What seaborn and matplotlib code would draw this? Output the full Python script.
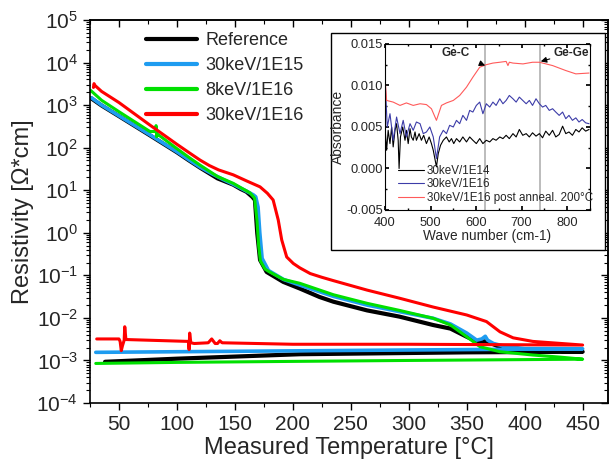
import numpy as np
import pandas as pd
import matplotlib
matplotlib.use("Agg")
import matplotlib.pyplot as plt
import matplotlib.ticker as mticker
from matplotlib.patches import Rectangle
import seaborn as sns

# main chart: resistivity vs temperature (heating run followed by cooling run)
ref_T = [26, 35, 50, 76.7, 100, 110, 119.9, 135, 148.6, 155, 160, 165, 167.3, 169.3, 171.7, 177.4, 191.8,
         206, 223, 235, 264, 292, 321, 336, 350, 358.6, 367, 378, 400, 450,
         350, 206, 100, 38]
ref_rho = [1450, 980, 550, 195, 78, 51, 34, 19, 13.5, 10.7, 9.2, 7, 5.9, 0.98, 0.23, 0.12, 0.07,
           0.049, 0.031, 0.024, 0.015, 0.0107, 0.0068, 0.0056, 0.0036, 0.0028, 0.0028, 0.0021, 0.0018, 0.0016,
           0.00155, 0.0014, 0.0011, 0.00093]

k15_T = [26.4, 35, 50, 76.7, 100, 110, 119.9, 130, 140, 148.6, 155, 160, 165.9, 168, 170, 171.5, 173.5, 179,
         192, 206, 235, 264, 292, 321, 336, 350, 358.6, 363, 366, 368, 373, 384.5, 400, 450,
         350, 250, 150, 30]
k15_rho = [1480, 1000, 560, 200, 80, 52.5, 35, 24.5, 17.8, 13.8, 11.2, 9.5, 7.8, 7, 4, 1, 0.25, 0.13,
           0.08, 0.059, 0.032, 0.02, 0.014, 0.0098, 0.0072, 0.0044, 0.003, 0.0032, 0.0037, 0.003, 0.0025,
           0.0021, 0.0019, 0.00188,
           0.0018, 0.00172, 0.00164, 0.00155]

k8_T = [25.7, 35, 50, 76.7, 81.5, 82, 82.5, 83, 100, 110, 119.9, 135, 148.6, 155, 163, 167, 169, 170.5, 172,
        176, 180, 192, 206, 235, 264, 292, 321, 336, 350, 361.5, 378.7, 407, 430, 450,
        300, 200, 100, 30]
k8_rho = [2200, 1300, 700, 240, 240, 330, 180, 210, 95, 60, 39, 21, 14.5, 11.5, 8.7, 6.5, 2, 0.5, 0.22,
          0.14, 0.12, 0.08, 0.065, 0.035, 0.022, 0.015, 0.0098, 0.0068, 0.0036, 0.0021, 0.0016, 0.00134,
          0.0012, 0.00107,
          0.001, 0.00095, 0.0009, 0.00085]

k30_T = [28, 28.5, 29.3, 35, 50, 76.7, 100, 110, 120, 128, 136, 148.6, 160, 171.7, 178, 183, 187.4, 190.4,
         194.7, 200.4, 206, 215, 225, 235, 264, 292, 321, 350, 367, 378.7, 390, 407, 450,
         300, 200, 139, 137, 135, 133, 130, 127, 115, 112, 111, 110.5, 110,
         56, 55, 54.5, 53, 52, 51, 50, 30.8]
k30_rho = [2600, 3200, 2900, 2100, 1150, 340, 120, 78, 51, 38, 30, 23, 16.6, 12, 8.5, 5.9, 2, 0.68,
           0.27, 0.19, 0.15, 0.11, 0.09, 0.075, 0.045, 0.029, 0.018, 0.0117, 0.0082, 0.0047, 0.0034, 0.0028,
           0.0023,
           0.0024, 0.0024, 0.0026, 0.0029, 0.0025, 0.0025, 0.0032, 0.0026, 0.0025, 0.0026, 0.0044, 0.0018, 0.0028,
           0.0031, 0.0062, 0.003, 0.0022, 0.0017, 0.0028, 0.0032, 0.0032]

series_names = ["Reference", "30keV/1E15", "8keV/1E16", "30keV/1E16"]
series_colors = ["black", "#1e9cf0", "#00e000", "#ff0000"]

# inset: FTIR absorbance spectra
wn_e14 = [400, 403.6, 407, 411, 414.6, 418, 422, 425.5, 429, 431, 434, 439, 444, 447, 451, 455, 458, 462,
          466, 469, 475, 480, 485, 491, 497, 502, 506, 513, 517, 522, 528, 535, 541, 546, 551, 557, 564,
          571, 579, 586, 593, 600.6, 608, 615, 622.5, 630, 637, 644, 652, 659, 666, 673, 681, 688, 695,
          702.5, 710, 717, 724, 731.6, 739, 746, 753, 760.7, 768, 775, 782.5, 790, 797, 804, 811.6, 819,
          826, 833, 840.6, 848]
abs_e14 = [0.0050, 0.0022, 0.0046, 0.0030, 0.0050, 0.0026, 0.0046, 0.0054, 0.0034, 0.0000, 0.0038, 0.0050,
           0.0034, 0.0046, 0.0030, 0.0048, 0.0038, 0.0034, 0.0044, 0.0034, 0.0042, 0.0034, 0.0040, 0.0030,
           0.0038, 0.0030, 0.0022, 0.0002, 0.0018, 0.0028, 0.0034, 0.0038, 0.0032, 0.0036, 0.0030, 0.0036,
           0.0032, 0.0038, 0.0032, 0.0038, 0.0034, 0.0030, 0.0036, 0.0030, 0.0034, 0.0032, 0.0036, 0.0034,
           0.0038, 0.0036, 0.0040, 0.0036, 0.0042, 0.0038, 0.0047, 0.0040, 0.0042, 0.0038, 0.0043, 0.0039,
           0.0042, 0.0037, 0.0045, 0.0040, 0.0046, 0.0038, 0.0041, 0.0051, 0.0042, 0.0044, 0.0040, 0.0047,
           0.0044, 0.0049, 0.0045, 0.0047]

wn_e16 = [400, 405, 411, 418, 425.5, 433, 440, 447, 455, 462, 469, 477, 484, 491, 498.5, 506, 513, 520, 528,
          535, 542, 550, 557, 564, 571, 579, 586, 593, 600.6, 608, 615, 622.5, 630, 637, 644, 652, 659, 666,
          673, 681, 688, 695, 702.5, 710, 717, 724, 731.6, 739, 746, 753, 760.7, 768, 775, 782.5, 790, 797,
          804, 811.6, 819, 826, 833, 840.6, 848]
abs_e16 = [0.0110, 0.0050, 0.0066, 0.0034, 0.0062, 0.0042, 0.0058, 0.0038, 0.0054, 0.0046, 0.0056, 0.0054,
           0.0042, 0.0044, 0.0050, 0.0038, 0.0012, 0.0038, 0.0046, 0.0042, 0.0052, 0.0050, 0.0058, 0.0054,
           0.0064, 0.0058, 0.0070, 0.0068, 0.0076, 0.0080, 0.0066, 0.0078, 0.0074, 0.0080, 0.0076, 0.0084,
           0.0078, 0.0082, 0.0088, 0.0084, 0.0080, 0.0086, 0.0082, 0.0078, 0.0082, 0.0076, 0.0084, 0.0078,
           0.0074, 0.0076, 0.0070, 0.0072, 0.0068, 0.0064, 0.0068, 0.0060, 0.0064, 0.0058, 0.0061, 0.0056,
           0.0059, 0.0055, 0.0054]

wn_ann = [400, 403.6, 418, 433, 447, 462, 477, 491, 502, 513, 524, 535, 550, 564, 579, 593, 608, 622, 637,
          652, 666, 670, 673, 681, 703, 724, 739, 768, 797, 819, 848]
abs_ann = [0.0110, 0.0082, 0.0080, 0.0076, 0.0079, 0.0076, 0.0078, 0.0077, 0.0072, 0.0058, 0.0076, 0.0079,
           0.0082, 0.0088, 0.0098, 0.0110, 0.0122, 0.0125, 0.0127, 0.0128, 0.0129, 0.0124, 0.0128, 0.0127,
           0.0126, 0.0128, 0.0128, 0.0124, 0.0118, 0.0114, 0.0115]

spec_names = ["30keV/1E14", "30keV/1E16", "30keV/1E16 post anneal. 200°C"]
spec_colors = ["black", "#3c3ca8", "#ff5a5a"]
bond_lines = [620, 740]

sns.set_theme(style="ticks")
plt.rcParams["font.family"] = ["Liberation Sans", "DejaVu Sans"]
plt.rcParams["mathtext.fontset"] = "custom"
plt.rcParams["mathtext.rm"] = "Liberation Sans"
plt.rcParams["mathtext.default"] = "regular"

fig = plt.figure(figsize=(6.1, 4.72), dpi=100)
ax = fig.add_axes([0.1475, 0.1462, 0.8495, 0.8114])

main = [(ref_T, ref_rho), (k15_T, k15_rho), (k8_T, k8_rho), (k30_T, k30_rho)]
widths = [3.0, 2.6, 2.2, 2.2]
for (t, r), name, c, w in zip(main, series_names, series_colors, widths):
    df = pd.DataFrame({"T": t, "rho": r})
    sns.lineplot(data=df, x="T", y="rho", sort=False, estimator=None, ax=ax,
                 color=c, lw=w, label=name)

ax.set_yscale("log")
ax.set_xlim(25, 472)
ax.set_ylim(1e-4, 1e5)
ax.xaxis.set_major_locator(mticker.MultipleLocator(50))
ax.xaxis.set_minor_locator(mticker.MultipleLocator(25))
ax.yaxis.set_major_locator(mticker.LogLocator(base=10, numticks=12))
ax.yaxis.set_minor_locator(mticker.LogLocator(base=10, subs=np.arange(2, 10), numticks=12))
ax.yaxis.set_minor_formatter(mticker.NullFormatter())
ax.tick_params(axis="both", which="major", labelsize=15, length=5, width=1, color="black")
ax.tick_params(axis="both", which="minor", length=3, width=0.8, color="black")
for s in ax.spines.values():
    s.set_color("black")
    s.set_linewidth(1.2)
ax.set_xlabel("Measured Temperature [°C]", fontsize=17, labelpad=2)
ax.set_ylabel("Resistivity [Ω*cm]", fontsize=17, labelpad=2)

# mirrored ticks on top / right, pointing inward
top = ax.secondary_xaxis("top")
top.xaxis.set_major_locator(mticker.MultipleLocator(50))
top.xaxis.set_minor_locator(mticker.MultipleLocator(25))
top.tick_params(which="both", direction="in", labeltop=False, color="black")
top.tick_params(which="major", length=5, width=1)
top.tick_params(which="minor", length=3, width=0.8)
right = ax.secondary_yaxis("right")
right.yaxis.set_major_locator(mticker.LogLocator(base=10, numticks=12))
right.yaxis.set_minor_locator(mticker.LogLocator(base=10, subs=np.arange(2, 10), numticks=12))
right.tick_params(which="both", direction="in", labelright=False, color="black")
right.tick_params(which="major", length=5, width=1)
right.tick_params(which="minor", length=3, width=0.8)
for sec in (top, right):
    for s in sec.spines.values():
        s.set_linewidth(1.2)

leg = ax.legend(loc="upper left", bbox_to_anchor=(0.095, 0.988), frameon=False, fontsize=13,
                handlelength=2.8, handletextpad=0.45, labelspacing=0.45, borderaxespad=0)
for h in leg.get_lines():
    h.set_linewidth(3)

# inset frame and axes
fig.add_artist(Rectangle((0.5426, 0.4703), 0.449, 0.4597, transform=fig.transFigure,
                         facecolor="white", edgecolor="black", lw=1, zorder=3))
ins = fig.add_axes([0.6311, 0.5551, 0.336, 0.3517], zorder=4)
for xv in bond_lines:
    ins.axvline(xv, color="#b0b0b0", lw=1.2, zorder=1)
for wn, a, name, c in zip([wn_e14, wn_e16, wn_ann], [abs_e14, abs_e16, abs_ann], spec_names, spec_colors):
    sns.lineplot(x=wn, y=a, sort=False, estimator=None, ax=ins, color=c, lw=0.8, label=name)
ins.set_xlim(400, 850)
ins.set_ylim(-0.005, 0.015)
ins.xaxis.set_major_locator(mticker.MultipleLocator(100))
ins.xaxis.set_minor_locator(mticker.MultipleLocator(50))
ins.yaxis.set_major_locator(mticker.MultipleLocator(0.005))
ins.yaxis.set_minor_locator(mticker.MultipleLocator(0.0025))
ins.yaxis.set_major_formatter(mticker.FormatStrFormatter("%.3f"))
ins.tick_params(axis="both", which="both", direction="in", top=True, right=True, labelsize=9.3,
                color="black")
ins.tick_params(axis="y", pad=1.5)
ins.tick_params(axis="x", pad=5)
ins.tick_params(which="major", length=3)
ins.tick_params(which="minor", length=1.5)
for s in ins.spines.values():
    s.set_color("black")
    s.set_linewidth(0.8)
ins.set_xlabel("Wave number (cm-1)", fontsize=9.8, labelpad=0)
ins.set_ylabel("Absorbance", fontsize=10, labelpad=1)
ins.legend(loc="lower left", bbox_to_anchor=(0.035, 0.0), frameon=False, fontsize=8.4,
           handlelength=2.2, handletextpad=0.25, labelspacing=0.15, borderaxespad=0.1)
ins.annotate("Ge-C", xy=(620, 0.0124), xytext=(555, 0.0139), fontsize=8.5, fontweight="bold",
             ha="center", va="center",
             arrowprops=dict(arrowstyle="-|>", color="black", lw=0.8, shrinkA=8, shrinkB=0))
ins.annotate("Ge-Ge", xy=(742, 0.0129), xytext=(808, 0.0139), fontsize=8.5, fontweight="bold",
             ha="center", va="center",
             arrowprops=dict(arrowstyle="-|>", color="black", lw=0.8, shrinkA=12, shrinkB=0))

fig.savefig("out.png", dpi=100)
